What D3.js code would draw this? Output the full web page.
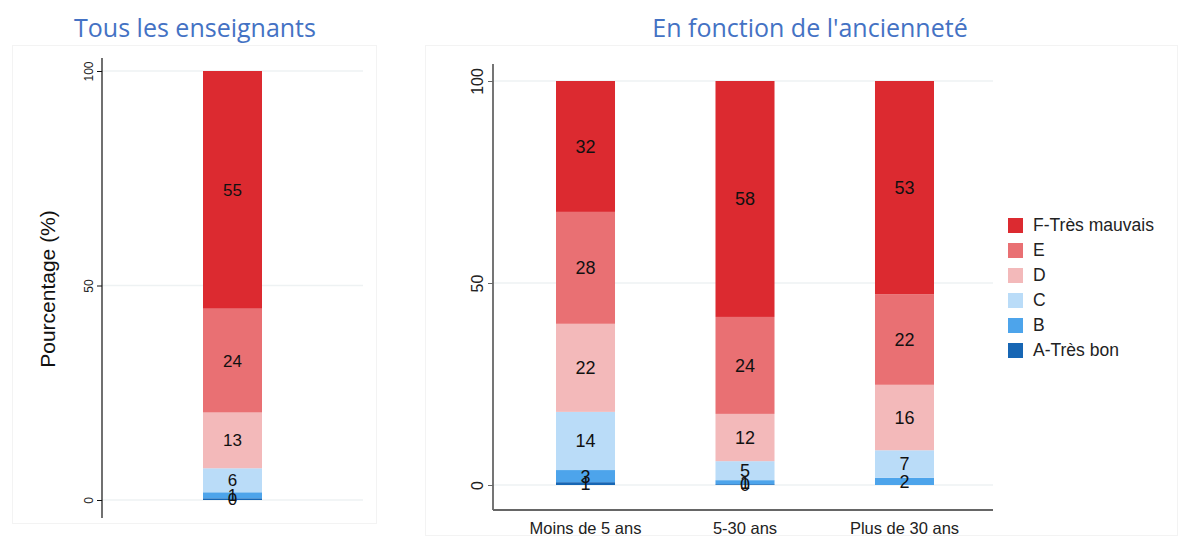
<!DOCTYPE html>
<html><head><meta charset="utf-8">
<script src="https://cdn.jsdelivr.net/npm/d3@7/dist/d3.min.js"></script>
<style>body{margin:0;background:#fff;font-family:"Liberation Sans",Arial,sans-serif;}</style>
</head><body><svg id="c" width="1179" height="540"></svg>
<script>
const levels = ["A-Très bon","B","C","D","E","F-Très mauvais"];
const colors = ["#1766b4","#4da4eb","#badcf8","#f3b9ba","#e97073","#dc2a30"];
const allCategories = ["Tous"];
const allValues = { "A-Très bon":[0.4], "B":[1.4], "C":[5.6], "D":[13.0], "E":[24.2], "F-Très mauvais":[55.4] };
const seniorityCategories = ["Moins de 5 ans","5-30 ans","Plus de 30 ans"];
const seniorityValues = {
  "A-Très bon":[0.7,0.2,0],
  "B":[3.0,1.0,1.8],
  "C":[14.4,4.7,6.8],
  "D":[21.8,11.7,16.2],
  "E":[27.7,24.0,22.4],
  "F-Très mauvais":[32.4,58.4,52.8]
};
const yTicks = [0,50,100];
const titles = ["Tous les enseignants","En fonction de l'ancienneté"];
const yTitle = "Pourcentage (%)";

const svg = d3.select("#c");
const color = d3.scaleOrdinal(levels, colors);

function rows(cats, vals){
  return cats.map((c,i)=>{ const r={cat:c}; levels.forEach(l=>r[l]=vals[l][i]); return r; });
}

// panel borders
svg.append("rect").attr("x",12.5).attr("y",45.5).attr("width",364).attr("height",478).attr("fill","none").attr("stroke","#f3f3f3");
svg.append("rect").attr("x",425.5).attr("y",45.5).attr("width",752).attr("height",490).attr("fill","none").attr("stroke","#f3f3f3");

// titles
svg.append("text").attr("x",195).attr("y",37).attr("text-anchor","middle").attr("fill","#4472c4")
  .style("font-family","'Open Sans','Noto Sans',sans-serif").style("font-size","25px").text(titles[0]);
svg.append("text").attr("x",810).attr("y",37).attr("text-anchor","middle").attr("fill","#4472c4")
  .style("font-family","'Open Sans','Noto Sans',sans-serif").style("font-size","25px").text(titles[1]);

function panel(opt){
  const data = rows(opt.cats, opt.vals);
  const stack = d3.stack().keys(levels)(data);
  const y = d3.scaleLinear().domain([0,100]).range([opt.y0, opt.y100]);
  const x = d3.scaleBand().domain(opt.cats).range([opt.xL, opt.xR]).paddingInner(opt.pin).paddingOuter(opt.pout);
  const g = svg.append("g");
  g.selectAll("line.grid").data(yTicks).join("line")
    .attr("x1",opt.axisX).attr("x2",opt.gridR).attr("y1",d=>y(d)).attr("y2",d=>y(d))
    .attr("stroke","#eef2f3").attr("stroke-width",1.5);
  stack.forEach(s=>{
    g.selectAll(null).data(s.filter(d=>d[1]-d[0]>0)).join("rect")
      .attr("x",d=>x(d.data.cat)).attr("width",x.bandwidth())
      .attr("y",d=>y(d[1])).attr("height",d=>y(d[0])-y(d[1]))
      .attr("fill",color(s.key));
  });
  stack.forEach(s=>{
    g.selectAll(null).data(s.filter(d=>d[1]-d[0]>0)).join("text")
      .attr("x",d=>x(d.data.cat)+x.bandwidth()/2).attr("y",d=>y((d[0]+d[1])/2))
      .attr("dy","0.36em").attr("text-anchor","middle").attr("fill","#111")
      .style("font-size",opt.labelSize).text(d=>Math.round(d[1]-d[0]));
  });
  const ax = g.append("g").attr("transform",`translate(${opt.axisX},0)`)
    .call(d3.axisLeft(y).tickValues(yTicks).tickSize(5).tickSizeOuter(0).tickPadding(4));
  ax.select(".domain").remove();
  ax.selectAll(".tick line").attr("stroke",opt.axisColor);
  ax.selectAll(".tick text").attr("transform","rotate(-90)").attr("x",0).attr("y",-opt.tickOff)
    .attr("dy","0").attr("text-anchor","middle").attr("fill","#222")
    .style("font-size",opt.tickSize).style("font-family","'Liberation Sans',Arial,sans-serif");
  g.append("line").attr("x1",opt.axisX).attr("x2",opt.axisX).attr("y1",opt.axisTop).attr("y2",opt.axisBot)
    .attr("stroke",opt.axisColor).attr("stroke-width",opt.axisW);
  if(opt.xAxis){
    g.append("line").attr("x1",opt.axisX).attr("x2",opt.gridR).attr("y1",opt.axisBot).attr("y2",opt.axisBot)
      .attr("stroke",opt.axisColor).attr("stroke-width",opt.axisW);
    g.selectAll("text.cat").data(opt.cats).join("text")
      .attr("x",d=>x(d)+x.bandwidth()/2).attr("y",opt.axisBot+18).attr("dy","0.36em")
      .attr("text-anchor","middle").attr("fill","#222").style("font-size","16.5px").text(d=>d);
  }
  return g;
}

panel({cats:allCategories, vals:allValues, y0:500, y100:71, xL:203, xR:262, pin:0, pout:0,
  axisX:102, gridR:363, axisTop:58, axisBot:518, axisColor:"#111", axisW:1.2, tickSize:"12px", tickOff:9,
  labelSize:"17px", xAxis:false});

panel({cats:seniorityCategories, vals:seniorityValues, y0:485, y100:81, xL:493, xR:997, pin:0.63, pout:0.395,
  axisX:493, gridR:993, axisTop:64, axisBot:510, axisColor:"#666", axisW:1.8, tickSize:"16px", tickOff:10,
  labelSize:"18px", xAxis:true});

svg.append("text").attr("transform","translate(55,289) rotate(-90)").attr("text-anchor","middle")
  .attr("fill","#111").style("font-size","21px").text(yTitle);

const leg = svg.append("g").attr("transform","translate(1008,225)");
const order = levels.slice().reverse();
order.forEach((l,i)=>{
  const r = leg.append("g").attr("transform",`translate(0,${i*25})`);
  r.append("rect").attr("x",0).attr("y",-7).attr("width",15).attr("height",15).attr("fill",color(l));
  r.append("text").attr("x",25).attr("y",0).attr("dy","0.36em").attr("fill","#222").style("font-size","17.5px").text(l);
});
</script></body></html>
